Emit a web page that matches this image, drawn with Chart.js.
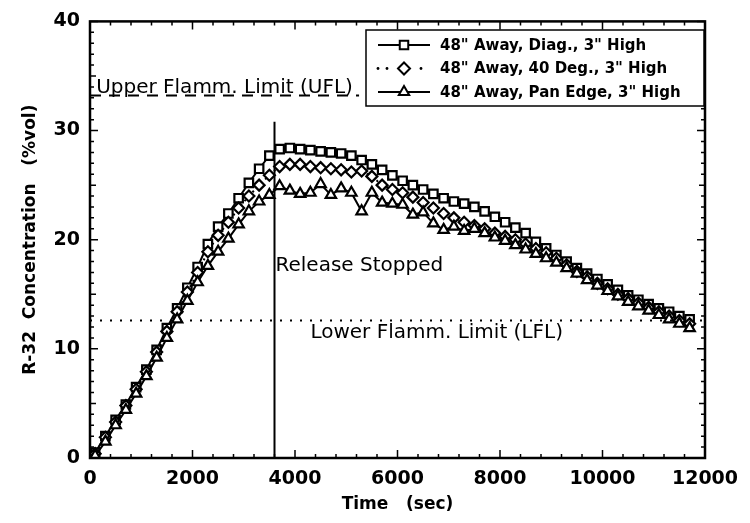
<!DOCTYPE html>
<html><head><meta charset="utf-8">
<script src="https://cdn.jsdelivr.net/npm/chart.js@4.4.1/dist/chart.umd.min.js"></script>
<style>html,body{margin:0;padding:0;background:#fff}#wrap{width:750px;height:523px}</style>
</head><body><div id="wrap"><canvas id="c" width="750" height="523"></canvas></div>
<script>
const times = [100,300,500,700,900,1100,1300,1500,1700,1900,2100,2300,2500,2700,2900,3100,3300,3500,3700,3900,4100,4300,4500,4700,4900,5100,5300,5500,5700,5900,6100,6300,6500,6700,6900,7100,7300,7500,7700,7900,8100,8300,8500,8700,8900,9100,9300,9500,9700,9900,10100,10300,10500,10700,10900,11100,11300,11500,11700];
const diag = [0.5,2.0,3.5,4.9,6.5,8.1,9.9,11.9,13.7,15.6,17.5,19.6,21.2,22.4,23.8,25.2,26.5,27.7,28.3,28.4,28.3,28.2,28.1,28.0,27.9,27.7,27.3,26.9,26.4,25.9,25.4,25.0,24.6,24.2,23.8,23.5,23.3,23.0,22.6,22.1,21.6,21.1,20.6,19.8,19.2,18.6,18.0,17.4,16.9,16.4,15.9,15.4,14.9,14.5,14.1,13.7,13.4,13.0,12.7];
const deg40 = [0.4,1.9,3.3,4.8,6.3,7.9,9.7,11.6,13.4,15.2,17.0,18.9,20.4,21.6,22.9,24.0,25.0,25.9,26.7,26.9,26.9,26.7,26.6,26.5,26.4,26.2,26.3,25.8,25.0,24.6,24.3,23.9,23.4,22.9,22.4,22.0,21.6,21.3,21.0,20.6,20.3,20.0,19.6,19.2,18.8,18.3,17.7,17.1,16.6,16.0,15.5,15.0,14.6,14.2,13.8,13.4,13.0,12.6,12.3];
const panEdge = [0.2,1.5,3.0,4.4,5.9,7.5,9.2,11.0,12.7,14.4,16.1,17.6,18.9,20.1,21.4,22.6,23.5,24.1,24.9,24.5,24.2,24.3,25.1,24.1,24.7,24.3,22.6,24.3,23.4,23.3,23.2,22.3,22.5,21.5,20.9,21.2,20.8,21.0,20.6,20.2,19.9,19.5,19.1,18.7,18.3,17.9,17.4,16.9,16.3,15.8,15.3,14.8,14.3,13.9,13.5,13.1,12.7,12.3,11.9];
const seriesNames = ['48" Away, Diag., 3" High','48" Away, 40 Deg., 3" High','48" Away, Pan Edge, 3" High'];
const xTicks = [0,2000,4000,6000,8000,10000,12000];
const yTicks = [0,10,20,30,40];
const uflValue = 33.2, lflValue = 12.6, releaseTime = 3600, releaseTop = 30.8, uflEnd = 5250;
const uflText = 'Upper Flamm. Limit (UFL)', lflText = 'Lower Flamm. Limit (LFL)', releaseText = 'Release Stopped';

const pts = arr => times.map((t,i)=>({x:t,y:arr[i]}));
const FONT = '"DejaVu Sans", sans-serif';

const mk = (label, arr, style, dash) => ({
  label, data: pts(arr), type:'line', borderColor:'#000', borderWidth:2, borderDash:dash,
  pointStyle:style, pointRadius: style==='rect'?6:(style==='triangle'?6:5.5), pointBorderWidth:2.2,
  pointBackgroundColor:'#fff', pointBorderColor:'#000', fill:false, tension:0
});

const datasets = [
  {label:'ufl', data:[{x:0,y:uflValue},{x:uflEnd,y:uflValue}], borderColor:'#000', borderWidth:2, borderDash:[11,8], pointRadius:0},
  {label:'lfl', data:[{x:0,y:lflValue},{x:12000,y:lflValue}], borderColor:'#000', borderWidth:2, borderDash:[2,8], pointRadius:0},
  {label:'release', data:[{x:releaseTime,y:0},{x:releaseTime,y:releaseTop}], borderColor:'#000', borderWidth:2, pointRadius:0},
  mk(seriesNames[2], panEdge, 'triangle', []),
  mk(seriesNames[1], deg40, 'rectRot', [2,4]),
  mk(seriesNames[0], diag, 'rect', []),
];

const deco = {
  id:'deco',
  afterDatasetsDraw(chart){
    const {ctx, chartArea:a, scales:{x,y}} = chart;
    ctx.save();
    ctx.strokeStyle='#000'; ctx.fillStyle='#000';
    ctx.lineWidth=1.5;
    for(let v=0; v<=40; v+=1){
      const p=y.getPixelForValue(v); const L = v%10===0?8:(v%5===0?6:4);
      ctx.beginPath(); ctx.moveTo(a.left,p); ctx.lineTo(a.left+L,p); ctx.moveTo(a.right,p); ctx.lineTo(a.right-L,p); ctx.stroke();
    }
    for(let v=0; v<=12000; v+=400){
      const p=x.getPixelForValue(v); const L = v%2000===0?8:4;
      ctx.beginPath(); ctx.moveTo(p,a.bottom); ctx.lineTo(p,a.bottom-L); ctx.moveTo(p,a.top); ctx.lineTo(p,a.top+L); ctx.stroke();
    }
    ctx.lineWidth=2.5;
    ctx.strokeRect(a.left,a.top,a.right-a.left,a.bottom-a.top);
    ctx.font = '20px '+FONT; ctx.textBaseline='alphabetic'; ctx.textAlign='left';
    ctx.fillText(uflText, x.getPixelForValue(120), y.getPixelForValue(uflValue)-3);
    ctx.fillText(lflText, x.getPixelForValue(4300), y.getPixelForValue(lflValue)+18);
    ctx.fillText(releaseText, x.getPixelForValue(releaseTime)+1, y.getPixelForValue(17.8)+7);
    const bx=366, by=30, bw=338, bh=76;
    ctx.fillStyle='#fff'; ctx.fillRect(bx,by,bw,bh);
    ctx.lineWidth=1.5; ctx.strokeRect(bx,by,bw,bh);
    const order=[5,4,3];
    order.forEach((di,i)=>{
      const ds=chart.data.datasets[di]; const cy=by+15+i*23.5;
      ctx.strokeStyle='#000'; ctx.lineWidth=2.2;
      if(i===1){ ctx.fillStyle='#000'; [378,387,421].forEach(px=>{ctx.beginPath();ctx.arc(px,cy,1.4,0,7);ctx.fill();}); }
      else { ctx.beginPath(); ctx.moveTo(378,cy); ctx.lineTo(430,cy); ctx.stroke(); }
      ctx.fillStyle='#fff'; ctx.strokeStyle='#000'; ctx.lineWidth=2;
      Chart.helpers.drawPoint(ctx,{pointStyle:ds.pointStyle,radius:6,borderWidth:2},404,cy);
      ctx.fillStyle='#000'; ctx.font='bold 15px '+FONT; ctx.textBaseline='middle';
      ctx.fillText(ds.label, 440, cy+1);
    });
    ctx.restore();
  }
};

new Chart(document.getElementById('c'), {
  type:'line',
  data:{datasets},
  options:{
    responsive:false, animation:false, devicePixelRatio:1,
    layout:{padding:{left:0,right:45,top:8,bottom:0}},
    plugins:{legend:{display:false}, tooltip:{enabled:false}},
    scales:{
      x:{type:'linear', min:0, max:12000, afterBuildTicks:s=>{s.ticks=xTicks.map(v=>({value:v}));},
        grid:{display:false, drawTicks:false}, border:{display:false},
        ticks:{color:'#000', padding:10, maxRotation:0, callback:v=>String(v), font:{family:FONT, size:19, weight:'bold'}},
        title:{display:true, text:'Time   (sec)', color:'#000', font:{family:FONT,size:17,weight:'bold'}, padding:{top:4,bottom:8}},
        afterFit:s=>{s.height=65;}},
      y:{type:'linear', min:0, max:40, afterBuildTicks:s=>{s.ticks=yTicks.map(v=>({value:v}));},
        grid:{display:false, drawTicks:false}, border:{display:false},
        ticks:{color:'#000', padding:10, callback:v=>String(v), font:{family:FONT, size:19, weight:'bold'}},
        title:{display:true, text:'R-32  Concentration   (%vol)', color:'#000', font:{family:FONT,size:17,weight:'bold'}, padding:{top:20,bottom:0}},
        afterFit:s=>{s.width=90;}}
    }
  },
  plugins:[deco]
});
</script></body></html>
